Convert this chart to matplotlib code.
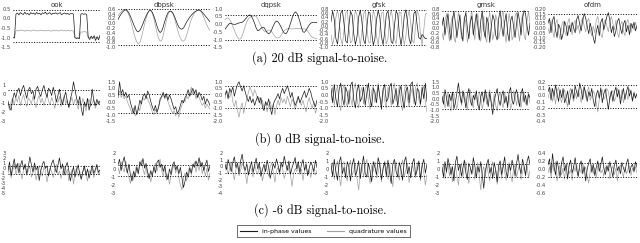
import numpy as np
import matplotlib.pyplot as plt
from matplotlib.lines import Line2D
from matplotlib.ticker import FormatStrFormatter

plt.rcParams['axes.unicode_minus'] = False

names = ['ook', 'dbpsk', 'dqpsk', 'gfsk', 'gmsk', 'ofdm']
captions = ['(a) 20 dB signal-to-noise.', '(b) 0 dB signal-to-noise.', '(c) -6 dB signal-to-noise.']
legend_labels = ['in-phase values', 'quadrature values']

# ---- 20 dB ----
ook_20_i = [-1.0, -1.02, 0.22, 0.28, 0.18, 0.3, 0.24, 0.2, 0.32, 0.22, 0.26, 0.18, 0.3, 0.24, 0.28, 0.2, 0.31, 0.23, 0.27, 0.19,
            0.29, 0.25, 0.33, 0.21, 0.26, 0.3, 0.2, 0.27, 0.24, 0.29, 0.22, 0.26, 0.3, 0.19, 0.25, 0.28, 0.22, 0.27, 0.2, 0.24,
            0.26, 0.22, -1.0, -1.05, -1.02, -1.06, 0.22, 0.25, 0.21, 0.24, 0.2, -0.98, -1.1, -0.92, -1.05, -0.9, -1.15, -0.95, -1.12, -0.88]
ook_20_q = [-1.0, -1.0, -0.65, -0.62, -0.66, -0.6, -0.64, -0.63, -0.67, -0.61, -0.65, -0.62, -0.66, -0.64, -0.6, -0.65, -0.63, -0.66, -0.62, -0.64,
            -0.61, -0.66, -0.63, -0.65, -0.62, -0.64, -0.67, -0.61, -0.65, -0.63, -0.62, -0.66, -0.64, -0.6, -0.65, -0.63, -0.66, -0.62, -0.64, -0.65,
            -0.63, -0.66, -1.0, -1.02, -0.99, -1.01, -0.7, -0.72, -0.68, -0.7, -0.71, -1.0, -0.98, -1.03, -0.97, -1.02, -1.0, -0.99, -1.02, -1.0]
dbpsk_20_i = [0.15, 0.28, 0.38, 0.47, 0.53, 0.56, 0.52, 0.42, 0.28, 0.12, -0.05, -0.2, -0.32, -0.36, -0.3, -0.18, -0.02, 0.15, 0.3, 0.43,
              0.52, 0.54, 0.45, 0.3, 0.1, -0.12, -0.3, -0.39, -0.33, -0.15, 0.08, 0.28, 0.43, 0.5, 0.5, 0.44, 0.32, 0.15, -0.02, -0.16,
              -0.23, -0.25, -0.2, -0.08, 0.05, 0.15, 0.25, 0.33, 0.4, 0.46, 0.5, 0.54, 0.55, 0.52, 0.46, 0.38, 0.3, 0.22, 0.14, 0.06]
dbpsk_20_q = [0.3, 0.4, 0.48, 0.53, 0.56, 0.55, 0.48, 0.33, 0.12, -0.12, -0.38, -0.6, -0.78, -0.86, -0.8, -0.6, -0.32, -0.05, 0.2, 0.4,
              0.52, 0.54, 0.42, 0.18, -0.1, -0.4, -0.62, -0.75, -0.72, -0.5, -0.2, 0.1, 0.35, 0.48, 0.5, 0.42, 0.25, 0.02, -0.22, -0.45,
              -0.62, -0.73, -0.75, -0.68, -0.5, -0.28, -0.05, 0.15, 0.3, 0.42, 0.5, 0.54, 0.55, 0.5, 0.4, 0.25, 0.08, -0.08, -0.2, -0.3]
dqpsk_20_i = [-0.33, -0.2, -0.05, 0.06, 0.05, 0.0, -0.02, 0.0, 0.04, 0.08, 0.1, 0.12, 0.2, 0.32, 0.45, 0.56, 0.6, 0.5, 0.3, 0.05,
              -0.25, -0.43, -0.38, -0.28, -0.2, -0.22, -0.38, -0.55, -0.63, -0.55, -0.35, -0.1, 0.1, 0.2, 0.15, 0.0, -0.2, -0.42, -0.58, -0.63,
              -0.5, -0.25, 0.05, 0.38, 0.65, 0.8, 0.72, 0.5, 0.18, -0.2, -0.5, -0.53, -0.4, -0.22, -0.05, 0.06, 0.11, 0.12, 0.1, 0.12]
dqpsk_20_q = [0.3, 0.38, 0.4, 0.3, 0.1, -0.15, -0.4, -0.65, -0.85, -0.97, -0.95, -0.75, -0.45, -0.12, 0.15, 0.35, 0.45, 0.5, 0.52, 0.55,
              0.5, 0.35, 0.12, -0.1, -0.3, -0.45, -0.5, -0.45, -0.38, -0.4, -0.5, -0.65, -0.8, -0.88, -0.9, -0.85, -0.72, -0.55, -0.42, -0.35,
              -0.3, -0.28, -0.3, -0.32, -0.3, -0.28, -0.27, -0.3, -0.28, -0.3, -0.32, -0.3, -0.35, -0.45, -0.6, -0.75, -0.85, -0.9, -0.92, -0.95]
gfsk_20_i = [0.2, 0.7, 0.3, -0.6, -0.85, -0.2, 0.6, 0.72, 0.1, -0.7, -0.8, 0.0, 0.68, 0.5, -0.4, -0.88, -0.5, 0.4, 0.74, 0.2,
             -0.65, -0.85, -0.1, 0.65, 0.6, -0.3, -0.9, -0.6, 0.3, 0.72, 0.4, -0.5, -0.88, -0.3, 0.55, 0.7, 0.1, -0.75, -0.82, 0.0,
             0.7, 0.55, -0.35, -0.9, -0.4, 0.45, 0.75, 0.2, -0.6, -0.85, -0.2, 0.6, 0.68, 0.0, -0.55, -0.62, -0.4, -0.5, -0.6, -0.58]
gfsk_20_q = [-0.4, -0.9, -0.5, 0.4, 0.72, 0.3, -0.6, -0.88, -0.2, 0.6, 0.7, -0.1, -0.8, -0.7, 0.2, 0.72, 0.5, -0.4, -0.9, -0.3,
             0.55, 0.7, 0.0, -0.75, -0.8, 0.1, 0.72, 0.45, -0.5, -0.9, -0.2, 0.6, 0.65, -0.2, -0.85, -0.6, 0.35, 0.75, 0.3, -0.6,
             -0.85, -0.1, 0.65, 0.6, -0.3, -0.88, -0.5, 0.4, 0.7, 0.15, -0.7, -0.8, 0.05, 0.7, 0.5, -0.4, -0.9, -0.2, 0.55, 0.6]
gmsk_20_i = [0.1, 0.45, -0.3, 0.2, 0.6, -0.1, -0.5, 0.3, 0.7, 0.2, -0.4, 0.1, 0.55, -0.2, -0.55, 0.35, 0.65, 0.0, -0.45, 0.25,
             0.5, -0.3, 0.15, 0.6, 0.1, -0.5, 0.3, 0.7, -0.1, -0.4, 0.45, 0.2, -0.6, 0.05, 0.55, 0.35, -0.3, -0.5, 0.4, 0.72,
             0.1, -0.35, 0.25, 0.6, -0.2, -0.55, 0.3, 0.5, 0.05, -0.4, 0.2, 0.65, 0.3, -0.3, 0.4, 0.72, 0.6, 0.1, -0.3, 0.2]
gmsk_20_q = [-0.2, -0.5, 0.3, 0.6, -0.1, -0.55, 0.2, 0.5, -0.4, -0.6, 0.1, 0.65, 0.3, -0.45, -0.2, 0.5, 0.2, -0.6, -0.3, 0.4,
             0.7, 0.0, -0.5, 0.25, 0.6, -0.2, -0.55, 0.15, 0.5, -0.35, -0.6, 0.3, 0.65, 0.1, -0.5, -0.2, 0.55, 0.3, -0.45, -0.1,
             0.45, 0.7, -0.2, -0.6, 0.1, 0.6, 0.2, -0.5, -0.3, 0.5, 0.65, -0.1, -0.55, 0.2, 0.6, -0.3, -0.5, 0.3, 0.68, 0.2]
ofdm_20_i = [0.05, 0.1, -0.05, 0.08, 0.12, -0.02, -0.1, 0.04, 0.0, -0.12, -0.06, 0.07, 0.02, -0.08, 0.03, -0.04, 0.06, 0.0, -0.05, 0.09,
             0.13, 0.04, -0.03, 0.08, 0.15, 0.1, 0.02, -0.06, 0.05, -0.02, -0.1, -0.16, -0.04, 0.03, -0.08, 0.06, 0.1, -0.02, 0.05, 0.12,
             0.16, 0.08, -0.05, 0.02, -0.09, -0.03, 0.07, 0.1, 0.0, -0.06, 0.04, 0.08, -0.04, 0.03, -0.07, 0.05, 0.0, 0.06, -0.03, 0.02]
ofdm_20_q = [0.0, -0.06, 0.08, -0.02, -0.1, 0.04, 0.09, -0.05, -0.12, 0.02, 0.07, -0.03, -0.08, 0.05, 0.1, 0.0, -0.07, 0.04, 0.08, -0.02,
             0.03, -0.06, 0.06, 0.11, 0.02, -0.04, 0.07, 0.1, -0.02, -0.08, 0.02, -0.05, 0.08, 0.12, 0.03, -0.06, -0.1, 0.04, 0.09, 0.02,
             -0.04, 0.06, 0.12, 0.05, -0.02, 0.08, -0.05, -0.1, 0.03, 0.07, -0.03, -0.08, 0.05, 0.09, 0.02, -0.05, 0.04, -0.02, 0.06, 0.0]

# ---- 0 dB ----
ook_0_i = [-0.8, -1.5, -1.8, -0.6, 0.1, -0.4, 0.3, 0.6, -0.2, 0.5, 0.9, 0.2, -0.5, 0.4, 0.7, 0.0, 0.3, -0.6, 0.5, 0.8,
           0.1, -0.3, 0.4, 0.9, 0.2, -0.4, 0.6, 0.3, -0.2, 0.7, 0.1, -0.9, -0.2, 0.5, -0.6, -1.2, -0.4, 0.2, -0.8, -1.5,
           -0.6, 0.1, 1.3, 0.4, -0.5, -1.1, -0.3, -1.6, -2.4, -0.9, -1.4, -0.5, -1.8, -1.0, 0.5, -0.7, -1.3, -0.6, -1.1, -0.8]
ook_0_q = [-1.0, -1.8, -0.9, -0.5, -1.2, -0.4, -0.9, -0.2, -1.3, -0.6, -0.1, -0.8, -1.4, -0.5, -0.7, -1.1, -0.3, -0.9, -1.5, -0.6,
           -0.2, -1.0, -0.5, -1.3, -0.7, 0.0, -0.8, -1.2, -0.4, -0.9, -1.6, -0.6, -1.0, -0.3, -1.4, -0.8, -0.2, -1.1, -0.7, -1.5,
           -0.9, -0.4, -1.2, -0.6, -1.0, -1.7, -0.8, -1.3, -0.5, -1.1, -1.9, -0.9, -0.6, -1.4, -1.0, -0.7, -1.6, -1.1, -0.8, -1.2]
dbpsk_0_i = [0.3, 1.5, 0.6, 0.9, 0.4, 0.7, 0.3, 0.5, -0.1, -0.5, -0.9, -0.3, -1.0, -0.6, 0.1, -0.2, 0.4, 0.6, 0.2, 0.8,
             0.5, 0.0, -0.4, -0.7, -0.3, -0.8, -0.5, 0.2, 0.4, 0.7, 0.3, 0.6, 0.1, 0.5, 0.2, -0.2, -0.6, -0.4, -0.9, -0.7,
             -0.3, 0.1, -0.1, 0.3, 0.5, 0.9, 0.4, 0.7, 1.0, 0.6, 0.9, 0.3, 0.7, 0.5, 0.1, 0.4, -0.2, 0.2, 0.0, -0.3]
dbpsk_0_q = [0.5, 0.8, 0.3, 0.6, 0.2, 0.4, 0.0, -0.3, -0.6, -0.9, -0.5, -1.1, -0.8, -0.4, -0.7, 0.0, 0.3, 0.1, 0.5, 0.2,
             -0.1, -0.4, -0.8, -1.0, -0.6, -0.9, -0.3, 0.0, 0.3, 0.5, 0.2, 0.4, 0.0, -0.3, -0.6, -0.9, -0.7, -1.1, -0.8, -1.2,
             -0.6, -0.3, 0.1, 0.0, 0.4, 0.2, 0.6, 1.1, 0.5, 0.8, 0.2, 0.6, 0.3, 0.0, -0.3, -0.1, -0.5, -0.2, -0.4, -0.6]
dqpsk_0_i = [0.0, 0.3, -0.3, 0.5, 0.2, 0.6, -0.1, 0.4, 0.8, 1.0, 0.6, 0.3, 0.7, 0.2, -0.2, -0.5, -0.1, -0.6, -0.3, -0.8,
             -0.4, -0.1, -0.6, -0.2, -0.9, -1.2, -0.5, -0.8, -0.3, -1.0, -1.5, -0.7, -0.4, -0.2, 0.1, -0.3, 0.2, 0.5, 0.1, 0.4,
             0.7, 0.3, -0.2, 0.2, -0.4, -0.8, -0.5, -0.1, -0.6, -0.3, 0.0, 0.3, -0.2, 0.1, 0.5, 0.2, -0.3, -0.6, -0.9, -0.4]
dqpsk_0_q = [-0.3, 0.4, 0.1, -0.2, 0.3, -0.5, -0.9, -0.4, -1.2, -1.7, -1.0, -0.6, -1.4, -0.8, -0.3, 0.2, 0.6, 0.3, -0.1, 0.4,
             0.1, -0.4, -0.2, -0.7, -0.4, -1.0, -0.6, -1.3, -0.8, -0.5, -1.1, -0.7, -1.5, -0.9, -0.4, -0.8, -0.2, -0.6, -0.3, -0.7,
             -0.1, -0.5, -0.9, -0.3, -0.6, -1.1, -0.7, -0.2, -0.5, -0.8, -0.4, -0.9, -1.3, -0.6, -0.2, -0.7, -1.0, -0.5, -1.4, -1.0]
gfsk_0_i = [0.5, -0.6, 0.8, -0.3, -0.9, 0.4, 0.9, -0.2, -0.8, 0.6, 0.2, -0.7, 0.7, 1.0, -0.4, -1.0, 0.3, 0.8, -0.5, -0.2,
            0.6, -0.8, 0.1, 0.9, -0.3, -0.9, 0.5, 0.2, -0.6, 0.7, -0.1, -1.1, 0.4, 0.8, -0.5, -0.3, 0.6, 0.9, -0.7, -0.2,
            0.5, -0.9, 0.2, 0.7, -0.4, -1.0, 0.3, 0.6, -0.6, 0.8, 1.0, -0.2, -0.8, 0.5, 0.3, -0.7, 0.6, -0.3, 0.9, -0.5]
gfsk_0_q = [-0.4, 0.6, -0.8, 0.2, 0.7, -0.6, -1.2, 0.3, 0.8, -0.5, -0.9, 0.4, -0.2, -0.8, 0.5, 0.9, -0.3, -1.0, 0.2, 0.6,
            -0.7, 0.4, 0.8, -0.4, -1.1, 0.3, 0.7, -0.6, 0.1, 0.9, -0.2, -0.7, 0.5, -0.4, -1.0, 0.6, 0.2, -0.8, 0.4, 0.9,
            -0.5, -0.1, 0.7, -0.6, -1.2, 0.3, 0.8, -0.3, -0.9, 0.1, 0.5, -0.7, 0.6, 0.9, -0.4, -0.8, 0.2, 0.7, -0.6, -1.3]
gmsk_0_i = [0.2, -0.5, 0.8, 0.1, -0.7, 0.4, -0.2, 0.6, -0.9, -0.3, 0.5, 1.4, 0.3, -0.4, 0.7, 0.0, -0.8, 0.4, 0.9, -0.2,
            -0.6, 0.3, -0.1, 0.7, -0.5, -1.0, 0.2, 0.6, -0.3, 0.8, 0.1, -0.7, 0.5, -0.4, -1.4, -0.2, 0.4, 0.9, -0.1, -0.6,
            0.3, 0.7, -0.4, 0.2, -0.8, 0.6, 1.0, -0.2, -0.5, 0.4, 0.8, 0.0, -0.7, 0.5, 0.9, -0.3, 0.3, -0.6, 0.4, 0.1]
gmsk_0_q = [-0.3, 0.4, -0.8, -0.2, 0.6, -0.5, -1.1, 0.2, 0.5, -0.4, -0.9, 0.1, 0.7, -0.6, -0.1, 0.5, -0.3, -1.0, 0.3, 0.8,
            -0.4, -0.8, 0.4, 0.1, -0.6, 0.6, 0.2, -0.9, -0.3, 0.5, -0.5, 0.3, 0.8, -0.2, -0.7, 0.4, -0.6, -1.1, 0.2, 0.6,
            -0.3, -0.8, 0.5, 0.0, -0.5, 0.3, -0.9, -0.4, 0.7, 0.2, -0.6, 0.4, -0.2, -0.8, 0.1, 0.6, -0.5, -0.1, 0.5, -0.4]
ofdm_0_i = [0.05, 0.12, -0.08, 0.1, -0.02, 0.15, 0.02, -0.1, 0.08, -0.04, 0.1, -0.12, -0.05, 0.06, -0.15, 0.0, 0.09, -0.06, 0.14, 0.04,
            -0.03, 0.18, 0.08, -0.07, 0.12, 0.03, -0.1, 0.05, -0.02, 0.1, -0.08, -0.18, 0.0, 0.07, -0.05, 0.11, -0.12, 0.02, 0.09, -0.06,
            -0.22, -0.04, 0.06, -0.1, 0.04, 0.12, -0.03, 0.08, -0.14, 0.0, 0.1, -0.07, 0.05, 0.13, -0.02, 0.07, -0.09, 0.03, -0.05, 0.02]
ofdm_0_q = [-0.05, 0.04, 0.1, -0.1, 0.0, -0.14, 0.06, 0.12, -0.03, -0.12, 0.02, 0.08, -0.08, -0.18, 0.04, 0.1, -0.02, -0.1, 0.03, -0.06,
            0.08, 0.0, -0.12, 0.05, 0.14, -0.04, 0.06, 0.12, -0.08, -0.02, 0.06, 0.01, -0.12, -0.26, -0.06, 0.04, 0.08, -0.07, -0.02, 0.1,
            0.05, -0.08, 0.02, 0.07, -0.1, -0.04, 0.1, 0.0, -0.06, 0.08, -0.12, -0.02, 0.04, -0.07, 0.09, 0.02, -0.1, 0.05, -0.03, 0.01]

# ---- -6 dB ----
ook_m6_i = [-0.5, 1.2, -1.5, 0.3, 1.8, -0.2, 0.9, -1.0, 0.5, 1.5, -0.3, 0.8, -1.2, 0.2, 2.2, 0.6, -0.8, 1.0, -0.4, 0.3,
            -2.5, -0.6, 0.7, 1.3, -0.1, 0.4, -1.6, -0.3, 0.9, 1.6, 0.1, -0.9, 0.5, 2.0, -0.2, 0.8, -1.4, 0.3, 1.1, -0.5,
            -2.6, -1.0, 0.2, -1.8, -0.4, 0.6, -1.2, -2.2, -0.7, 0.4, -1.5, -0.2, -2.0, -0.8, 0.5, -1.1, -0.3, 0.7, -0.9, -0.4]
ook_m6_q = [-1.0, 0.2, -2.0, -0.5, 0.8, -1.2, -0.3, 1.0, -0.8, -2.2, -0.4, 0.6, -1.5, -0.6, 0.4, -1.8, -0.9, 0.3, -2.4, -1.0,
            0.5, -0.7, -1.6, 0.2, -0.5, -2.8, -1.1, 0.0, -0.8, -1.9, -0.3, 0.7, -1.3, -0.6, -2.1, -0.9, 0.4, -1.4, -0.2, -2.5,
            -1.2, -0.4, -3.2, -1.0, 0.1, -1.7, -0.6, -2.3, -0.8, 0.3, -1.1, -2.6, -0.5, -1.3, -0.2, -1.9, -0.7, 0.2, -1.4, -0.9]
dbpsk_m6_i = [0.5, 1.2, -0.2, 0.8, 1.5, 0.3, -0.5, 0.6, -0.8, -1.5, -0.3, -1.0, 0.2, -0.6, 0.9, 0.4, 1.3, 0.1, 0.7, -0.4,
              -1.2, -0.2, -0.9, 0.3, -0.5, 0.8, 1.1, 0.2, 0.6, -0.3, 0.4, -0.8, -1.3, 0.0, -0.7, 0.5, 0.9, -0.1, 0.4, -0.6,
              0.2, -1.1, -2.3, -1.5, -0.4, -1.0, 0.1, -0.5, 0.6, 0.2, 1.0, 0.4, 1.4, 0.3, 0.8, -0.2, 0.5, 1.1, -0.3, 0.4]
dbpsk_m6_q = [0.2, -0.6, 0.9, 0.1, -0.4, 1.0, -0.2, -1.0, -1.8, -0.6, -1.3, -0.2, 0.5, -0.4, 0.3, 1.1, 0.0, -0.7, 0.4, -1.1,
              -0.5, -1.6, -0.8, 0.1, 0.7, -0.3, 0.5, 1.2, -0.2, -0.9, 0.2, -1.4, -0.6, -1.9, -0.8, -0.1, 0.6, -0.5, 0.3, -1.0,
              -2.0, -2.6, -1.2, -0.5, -1.5, -0.3, 0.4, -0.8, 0.2, 0.9, -0.4, 0.6, -0.2, 1.0, -0.6, 0.3, -0.9, 0.1, -1.4, -0.5]
dqpsk_m6_i = [0.3, -0.5, 1.0, 0.2, -0.8, 0.6, 1.4, -0.2, 0.5, -1.0, 0.8, 1.8, 0.1, -0.6, 0.4, -1.3, -0.3, 0.7, -0.9, 0.2,
              1.2, -0.4, 0.6, -1.5, -0.5, 0.3, -0.8, 0.9, -0.2, -1.8, -0.7, 0.4, -0.3, 1.1, 0.2, -0.9, 0.6, -0.1, 1.5, 0.3,
              -0.6, 0.8, -1.2, -0.2, 0.5, 1.3, -0.4, 0.7, -0.9, 0.2, 1.0, -0.6, 0.4, -1.4, -0.3, 0.6, 0.1, -0.8, 0.9, -0.2]
dqpsk_m6_q = [-0.6, 0.4, -1.2, -0.3, 0.6, -0.9, -2.0, -0.5, 0.2, -1.4, -0.6, 0.5, -0.2, -1.0, -2.6, -0.8, 0.1, -0.5, -1.6, 0.3,
              -0.7, -1.2, 0.0, -0.4, -2.2, -1.0, 0.2, -0.6, -1.5, -0.1, 0.5, -0.9, -2.4, -0.7, -0.2, -1.3, 0.3, -0.5, -1.8, -0.9,
              0.1, -0.6, -1.4, -3.0, -1.1, -0.3, -0.8, 0.2, -1.2, -0.4, -2.1, -0.7, 0.0, -1.0, -0.5, -1.7, -0.2, -0.9, -1.3, -0.6]
gfsk_m6_i = [0.6, -0.9, 1.2, -0.3, -1.4, 0.8, 1.5, -0.6, 0.2, -1.1, 0.9, 0.3, -1.5, 0.5, 1.3, -0.8, -0.2, 1.0, -1.2, 0.4,
             1.6, -0.5, -1.0, 0.7, -0.2, -1.6, 0.9, 0.2, -0.7, 1.4, 0.5, -1.3, 0.1, 0.8, -0.9, 1.1, -0.4, -1.8, 0.6, 1.2,
             -0.3, -1.0, 0.8, 0.0, -1.4, 0.9, 1.5, -0.6, 0.3, -1.1, 0.7, 1.3, -0.8, -0.1, 1.0, -1.2, 0.4, 1.2, -0.5, 0.6]
gfsk_m6_q = [-0.5, 0.8, -1.3, 0.2, 1.0, -0.9, -2.1, 0.4, 0.9, -0.6, -1.5, 0.3, 1.1, -0.8, -0.2, 0.7, -1.2, -2.6, -0.4, 0.6,
             -1.0, 0.2, 1.2, -0.7, -1.8, 0.5, -0.3, 0.9, -1.1, -0.5, 0.8, -1.6, -0.2, 1.0, 0.1, -1.3, 0.6, -0.8, -2.2, 0.3,
             0.9, -0.5, -1.4, 0.4, 1.1, -0.9, -0.1, 0.7, -1.7, -0.6, 0.5, -0.3, -1.1, 0.8, 0.2, -1.5, 0.6, -0.4, -2.0, -0.7]
gmsk_m6_i = [0.2, -1.0, 0.9, -0.4, 1.3, 0.5, -0.7, 0.3, -1.5, 0.8, 1.6, -0.2, 0.6, -0.9, 0.1, 1.1, -0.5, -1.3, 0.7, 0.2,
             -0.6, 1.4, 0.4, -1.1, 0.3, -0.4, 0.9, -0.8, -2.4, -0.3, 0.6, 1.2, -0.5, 0.2, -1.2, 0.8, -0.1, -1.6, 0.5, 1.0,
             -0.7, 0.3, 1.5, -0.4, -1.0, 0.6, -0.2, 1.1, 0.3, -0.9, 0.7, 1.8, 0.2, -0.6, 1.2, 0.4, -0.8, 0.9, 1.6, 0.5]
gmsk_m6_q = [-0.4, 0.6, -1.2, -0.2, 0.8, -0.9, 0.3, -1.6, -0.5, 0.4, -0.8, -2.0, -0.3, 0.7, -1.0, 0.2, 0.9, -0.6, -1.8, 0.1,
             -0.7, 0.5, -1.3, -0.2, 0.8, -0.9, -2.6, -0.4, 0.3, -1.1, 0.6, -0.5, -1.5, 0.2, 0.9, -0.8, -0.1, -1.9, -0.6, 0.4,
             -1.2, 0.7, -0.3, -1.4, 0.2, 0.8, -0.7, -1.6, 0.1, 0.5, -1.0, -0.2, 0.6, -1.3, -0.4, 0.3, -0.9, 0.5, -1.1, -0.2]
ofdm_m6_i = [0.1, 0.25, -0.1, 0.38, 0.05, -0.15, 0.2, 0.02, -0.2, 0.15, 0.3, -0.05, 0.12, -0.25, 0.08, 0.22, -0.1, 0.05, 0.28, -0.02,
             -0.18, 0.1, 0.2, -0.12, 0.06, -0.3, 0.0, 0.15, 0.25, -0.08, 0.12, -0.16, 0.04, 0.2, -0.06, 0.1, 0.3, 0.02, -0.14, 0.08,
             -0.05, 0.18, 0.0, -0.2, 0.1, 0.22, -0.04, 0.06, -0.12, 0.16, 0.02, -0.08, 0.14, 0.25, -0.1, 0.05, 0.12, -0.06, 0.18, 0.04]
ofdm_m6_q = [-0.1, 0.05, -0.22, 0.12, -0.05, 0.18, -0.3, -0.08, 0.1, -0.15, 0.02, -0.25, 0.06, 0.15, -0.12, -0.02, -0.28, 0.08, -0.06, 0.12,
             -0.2, 0.02, -0.1, 0.16, -0.04, 0.05, -0.18, -0.35, -0.05, 0.1, -0.12, 0.04, -0.22, 0.08, 0.14, -0.1, -0.02, -0.18, 0.06, -0.08,
             0.12, -0.25, -0.04, 0.08, -0.14, 0.02, -0.3, 0.05, 0.1, -0.06, -0.2, 0.04, -0.12, 0.0, 0.08, -0.16, 0.02, -0.08, 0.06, -0.1]

# y ticks shown per panel
ticks_20 = [[0.5, 0.0, -0.5, -1.0, -1.5],
            [0.6, 0.4, 0.2, 0.0, -0.2, -0.4, -0.6, -0.8, -1.0],
            [1.0, 0.5, 0.0, -0.5, -1.0, -1.5],
            [0.8, 0.6, 0.4, 0.2, 0.0, -0.2, -0.4, -0.6, -0.8, -1.0],
            [0.8, 0.6, 0.4, 0.2, 0.0, -0.2, -0.4, -0.6, -0.8],
            [0.2, 0.15, 0.1, 0.05, 0.0, -0.05, -0.1, -0.15, -0.2]]
ticks_0 = [[1, 0, -1, -2, -3],
           [1.5, 1.0, 0.5, 0.0, -0.5, -1.0, -1.5],
           [1.0, 0.5, 0.0, -0.5, -1.0, -1.5, -2.0],
           [1.0, 0.5, 0.0, -0.5, -1.0, -1.5, -2.0],
           [1.5, 1.0, 0.5, 0.0, -0.5, -1.0, -1.5, -2.0],
           [0.2, 0.1, 0.0, -0.1, -0.2, -0.3, -0.4]]
ticks_m6 = [[3, 2, 1, 0, -1, -2, -3, -4, -5],
            [2, 1, 0, -1, -2, -3],
            [2, 1, 0, -1, -2, -3, -4],
            [2, 1, 0, -1, -2, -3],
            [2, 1, 0, -1, -2, -3],
            [0.4, 0.2, 0.0, -0.2, -0.4, -0.6]]
fmt_20 = ['%.1f', '%.1f', '%.1f', '%.1f', '%.1f', '%.2f']
fmt_0 = ['%d', '%.1f', '%.1f', '%.1f', '%.1f', '%.1f']
fmt_m6 = ['%d', '%d', '%d', '%d', '%d', '%.1f']

# dotted reference levels (upper, lower)
levels_20 = [(0.45, -1.24), (0.6, -0.92), (0.62, -1.04), (0.75, -0.9), (0.72, None), (0.15, None)]
levels_0 = [(0.4, -1.1), (0.55, -0.9), (0.7, -1.0), (0.75, -0.85), (0.6, -0.95), (0.15, -0.2)]
levels_m6 = [(0.4, -1.1), (0.5, -0.9), (0.7, -1.0), (0.75, -0.85), (0.6, -0.95), (0.15, -0.2)]

rows = [
    ([(ook_20_i, ook_20_q), (dbpsk_20_i, dbpsk_20_q), (dqpsk_20_i, dqpsk_20_q),
      (gfsk_20_i, gfsk_20_q), (gmsk_20_i, gmsk_20_q), (ofdm_20_i, ofdm_20_q)], ticks_20, fmt_20, levels_20),
    ([(ook_0_i, ook_0_q), (dbpsk_0_i, dbpsk_0_q), (dqpsk_0_i, dqpsk_0_q),
      (gfsk_0_i, gfsk_0_q), (gmsk_0_i, gmsk_0_q), (ofdm_0_i, ofdm_0_q)], ticks_0, fmt_0, levels_0),
    ([(ook_m6_i, ook_m6_q), (dbpsk_m6_i, dbpsk_m6_q), (dqpsk_m6_i, dqpsk_m6_q),
      (gfsk_m6_i, gfsk_m6_q), (gmsk_m6_i, gmsk_m6_q), (ofdm_m6_i, ofdm_m6_q)], ticks_m6, fmt_m6, levels_m6),
]

W, H = 640, 243
fig = plt.figure(figsize=(W / 100, H / 100), dpi=100)

lefts = [[13, 118, 225, 331, 442, 548],
         [8, 118, 225, 331, 442, 548],
         [8, 118, 225, 331, 442, 548]]
rights = [100, 210, 317, 427, 530, 637]
row_tb = [(8, 48), (81, 122), (152, 194)]
caption_y = [58, 139, 210]

col_i = '#1a1a1a'
col_q = '#a0a0a0'

for r, (series, ticks, fmts, levels) in enumerate(rows):
    top, bot = row_tb[r]
    for c in range(6):
        l = lefts[r][c]
        ax = fig.add_axes([l / W, 1 - bot / H, (rights[c] - l) / W, (bot - top) / H])
        si, sq = series[c]
        x = np.arange(len(si))
        ax.plot(x, sq, color=col_q, lw=0.5)
        ax.plot(x, si, color=col_i, lw=0.5)
        up, lo = levels[c]
        ax.axhline(up, color='black', ls=':', lw=0.7)
        if lo is not None:
            ax.axhline(lo, color='black', ls=':', lw=0.7)
        t = ticks[c]
        ymin = min(min(t), min(si), min(sq))
        ymax = max(max(t), max(si), max(sq))
        pad = 0.02 * (ymax - ymin)
        ax.set_ylim(ymin - pad, ymax + pad)
        ax.set_xlim(0, len(si) - 1)
        ax.set_yticks(t)
        ax.yaxis.set_major_formatter(FormatStrFormatter(fmts[c]))
        ax.set_xticks([])
        ax.tick_params(axis='y', length=0, pad=1.5, labelsize=3.8, labelcolor='#444444')
        for s in ax.spines.values():
            s.set_visible(False)
        ax.patch.set_visible(False)
        if r == 0:
            ax.set_title(names[c], fontsize=5, color='#333333', pad=0.3)
    fig.text(0.5, 1 - caption_y[r] / H, captions[r], ha='center', va='center',
             fontsize=8.8, family=['cmr10', 'DejaVu Serif'])

handles = [Line2D([], [], color=col_i, lw=0.8), Line2D([], [], color=col_q, lw=0.8)]
leg = fig.legend(handles, legend_labels, loc='center', bbox_to_anchor=(323.5 / W, 1 - 231 / H),
                 ncol=2, fontsize=4.5, frameon=True, fancybox=False, edgecolor='black',
                 handlelength=2.7, columnspacing=2.4, borderpad=0.5, handletextpad=0.9)
leg.get_frame().set_linewidth(0.5)

fig.savefig('out.png', dpi=100)
